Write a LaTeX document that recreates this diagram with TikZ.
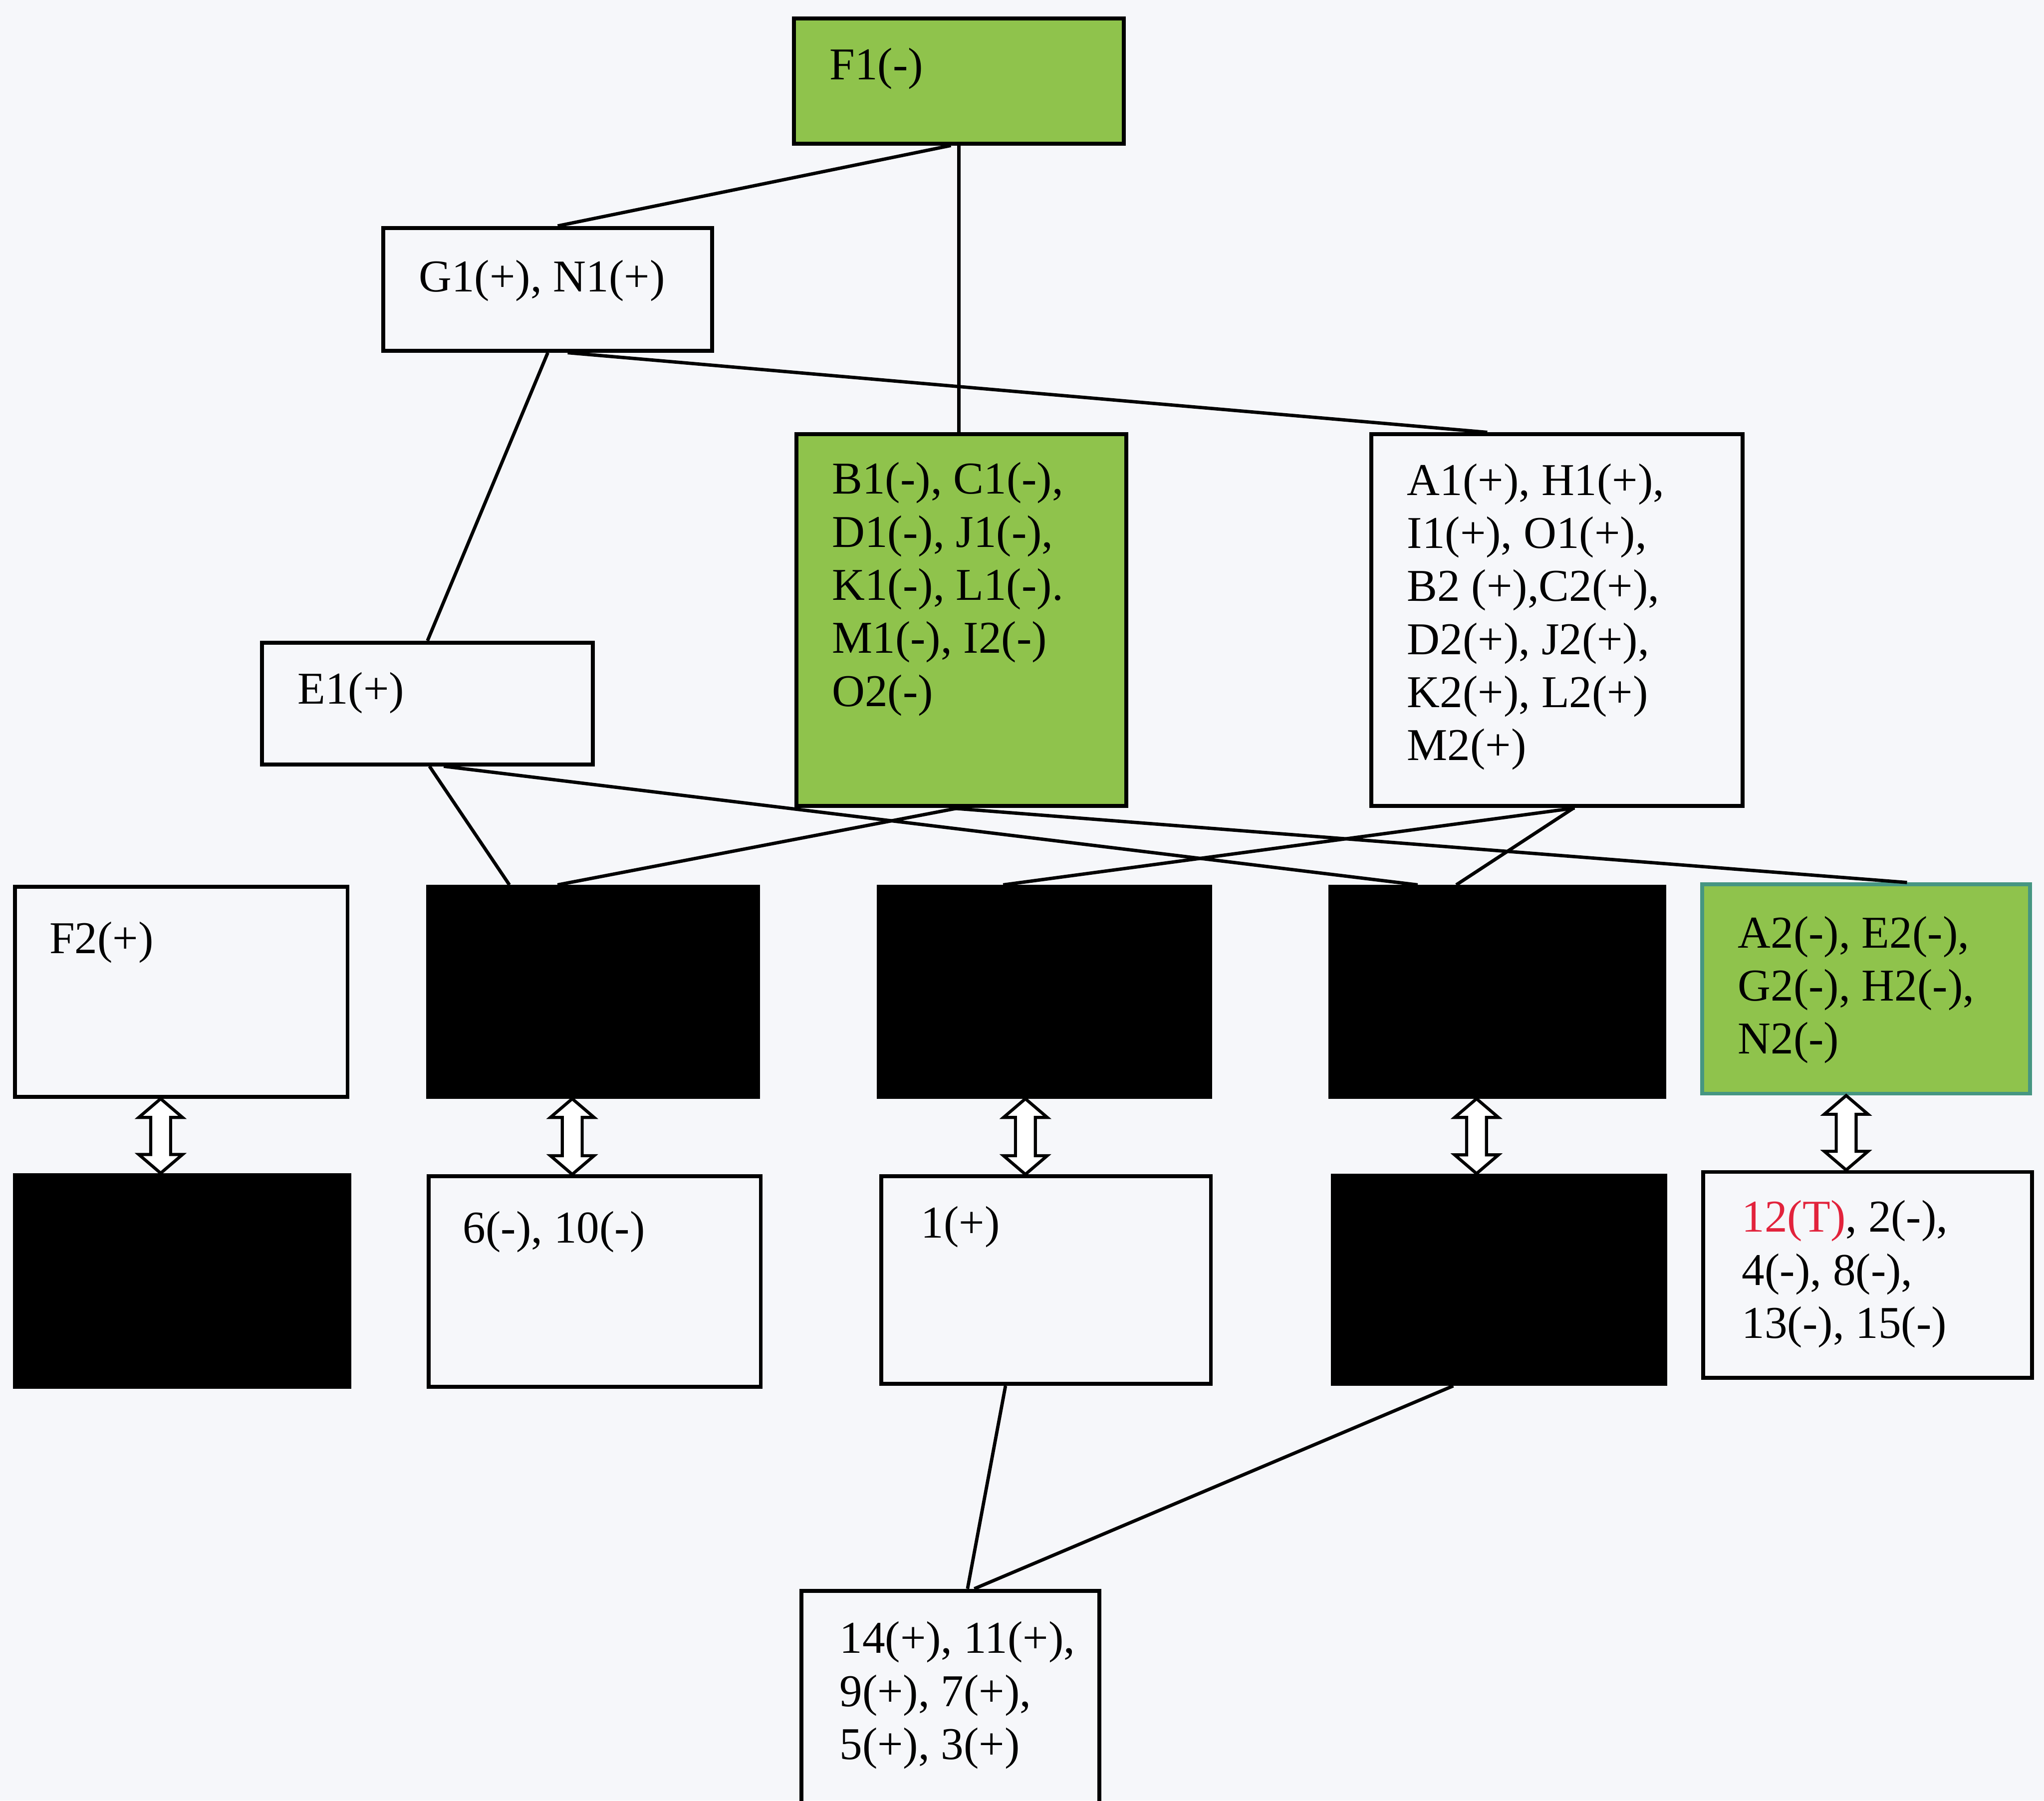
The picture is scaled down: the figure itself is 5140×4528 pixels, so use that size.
\documentclass[tikz,border=0pt]{standalone}
\usepackage{fontspec}
\setmainfont{Liberation Serif}
\usetikzlibrary{calc,fit}
\definecolor{leaf}{RGB}{143,195,76}
\definecolor{paper}{RGB}{246,247,250}
\definecolor{redt}{RGB}{226,35,60}
\definecolor{tealedge}{RGB}{70,150,130}
\newcommand{\dblarrowpath}[2]{\draw[dblarr] (#1) -- ++(55,47) -- ++(-30,0) -- ($(#2)+(25,-47)$) -- ++(30,0) -- (#2) -- ++(-55,-47) -- ++(30,0) -- ($(#1)+(-25,47)$) -- ++(-30,0) -- cycle;}
\begin{document}
\begin{tikzpicture}[x=0.005cm,y=-0.005cm,
  box/.style={draw=black, line width=1.4pt, inner sep=0pt},
  gbox/.style={box, fill=leaf},
  kbox/.style={box, fill=black},
  conn/.style={line width=1.2pt, draw=black},
  dblarr/.style={draw=black, fill=white, line width=1.1pt, line join=miter},
  lbl/.style={inner sep=0pt, anchor=base west, font=\fontsize{16.3pt}{19pt}\selectfont}]
\useasboundingbox (0,0) rectangle (5140,4528);
\clip (0,0) rectangle (5140,4528);
\fill[paper] (0,0) rectangle (5140,4528);

% boxes
\node[gbox, fit={(1996,46) (2826,361)}] (F1) {};
\node[box, fit={(964,573) (1791,882)}] (G1) {};
\node[box, fit={(659,1616) (1491,1922)}] (E1) {};
\node[gbox, fit={(2003,1092) (2832,2027)}] (B1) {};
\node[box, fit={(3448,1092) (4382,2027)}] (A1) {};
\node[box, fit={(38,2230) (874,2758)}] (F2) {};
\node[kbox, fit={(1076,2230) (1906,2758)}] (K1) {};
\node[kbox, fit={(2210,2230) (3043,2758)}] (K2) {};
\node[kbox, fit={(3345,2230) (4185,2758)}] (K3) {};
\node[gbox, draw=tealedge, fit={(4280,2224) (5105,2750)}] (A2) {};
\node[kbox, fit={(38,2955) (878,3487)}] (K4) {};
\node[box, fit={(1078,2958) (1913,3487)}] (S6) {};
\node[box, fit={(2216,2958) (3045,3480)}] (P1) {};
\node[kbox, fit={(3352,2956) (4187,3480)}] (K5) {};
\node[box, fit={(4283,2947) (5110,3465)}] (T12) {};
\node[box, fit={(2015,4000) (2765,4620)}] (BT) {};

% connectors
\draw[conn] ($(F1.south)+(-20,0)$) -- ($(G1.north)+(25,0)$);
\draw[conn] (F1.south) -- (F1.south |- B1.north);
\draw[conn] (G1.south) -- (E1.north);
\draw[conn] ($(G1.south)+(50,0)$) -- ($(A1.north)+(-175,0)$);
\draw[conn] ($(E1.south)+(5,0)$) -- ($(K1.north)+(-210,0)$);
\draw[conn] ($(E1.south)+(41,0)$) -- ($(K3.north)+(-200,0)$);
\draw[conn] ($(B1.south)+(-8,0)$) -- ($(K1.north)+(-89,0)$);
\draw[conn] ($(B1.south)+(-28,0)$) -- ($(A2.north)+(103,0)$);
\draw[conn] ($(A1.south)+(45,0)$) -- ($(K2.north)+(-104,0)$);
\draw[conn] ($(A1.south)+(42,0)$) -- ($(K3.north)+(-103,0)$);
\draw[conn] ($(P1.south)+(-102,0)$) -- ($(BT.north)+(43,0)$);
\draw[conn] ($(K5.south)+(-115,0)$) -- ($(BT.north)+(60,0)$);

% double arrows
\coordinate (d1t) at ($(F2.south)+(-52,0)$); \coordinate (d1b) at (d1t |- K4.north);
\coordinate (d2t) at ($(K1.south)+(-52,0)$); \coordinate (d2b) at (d2t |- S6.north);
\coordinate (d3t) at ($(K2.south)+(-48,0)$); \coordinate (d3b) at (d3t |- P1.north);
\coordinate (d4t) at ($(K3.south)+(-52,0)$); \coordinate (d4b) at (d4t |- K5.north);
\coordinate (d5t) at ($(A2.south)+(-50,0)$); \coordinate (d5b) at (d5t |- T12.north);
\dblarrowpath{d1t}{d1b}
\dblarrowpath{d2t}{d2b}
\dblarrowpath{d3t}{d3b}
\dblarrowpath{d4t}{d4b}
\dblarrowpath{d5t}{d5b}

% texts
\node[lbl] (tF1) at (2085,200) {F1(-)};
\node[lbl] (tG1) at (1052,733) {G1(+), N1(+)};
\node[lbl] (tE1) at (747,1770) {E1(+)};
\node[lbl] (tB1) at (2091,1242) {\begin{tabular}[t]{@{}l@{}}B1(-), C1(-),\\ D1(-), J1(-),\\ K1(-), L1(-).\\ M1(-), I2(-)\\ O2(-)\end{tabular}};
\node[lbl] (tA1) at (3537,1245) {\begin{tabular}[t]{@{}l@{}}A1(+), H1(+),\\ I1(+), O1(+),\\ B2 (+),C2(+),\\ D2(+), J2(+),\\ K2(+), L2(+)\\ M2(+)\end{tabular}};
\node[lbl] (tF2) at (123,2397) {F2(+)};
\node[lbl] (tA2) at (4369,2383) {\begin{tabular}[t]{@{}l@{}}A2(-), E2(-),\\ G2(-), H2(-),\\ N2(-)\end{tabular}};
\node[lbl] (tS6) at (1163,3125) {6(-), 10(-)};
\node[lbl] (tP1) at (2315,3113) {1(+)};
\node[lbl] (tT12) at (4379,3098) {\begin{tabular}[t]{@{}l@{}}\textcolor{redt}{12(T)}, 2(-),\\ 4(-), 8(-),\\ 13(-), 15(-)\end{tabular}};
\node[lbl] (tBT) at (2110,4157) {\begin{tabular}[t]{@{}l@{}}14(+), 11(+),\\ 9(+), 7(+),\\ 5(+), 3(+)\end{tabular}};
\end{tikzpicture}
\end{document}
